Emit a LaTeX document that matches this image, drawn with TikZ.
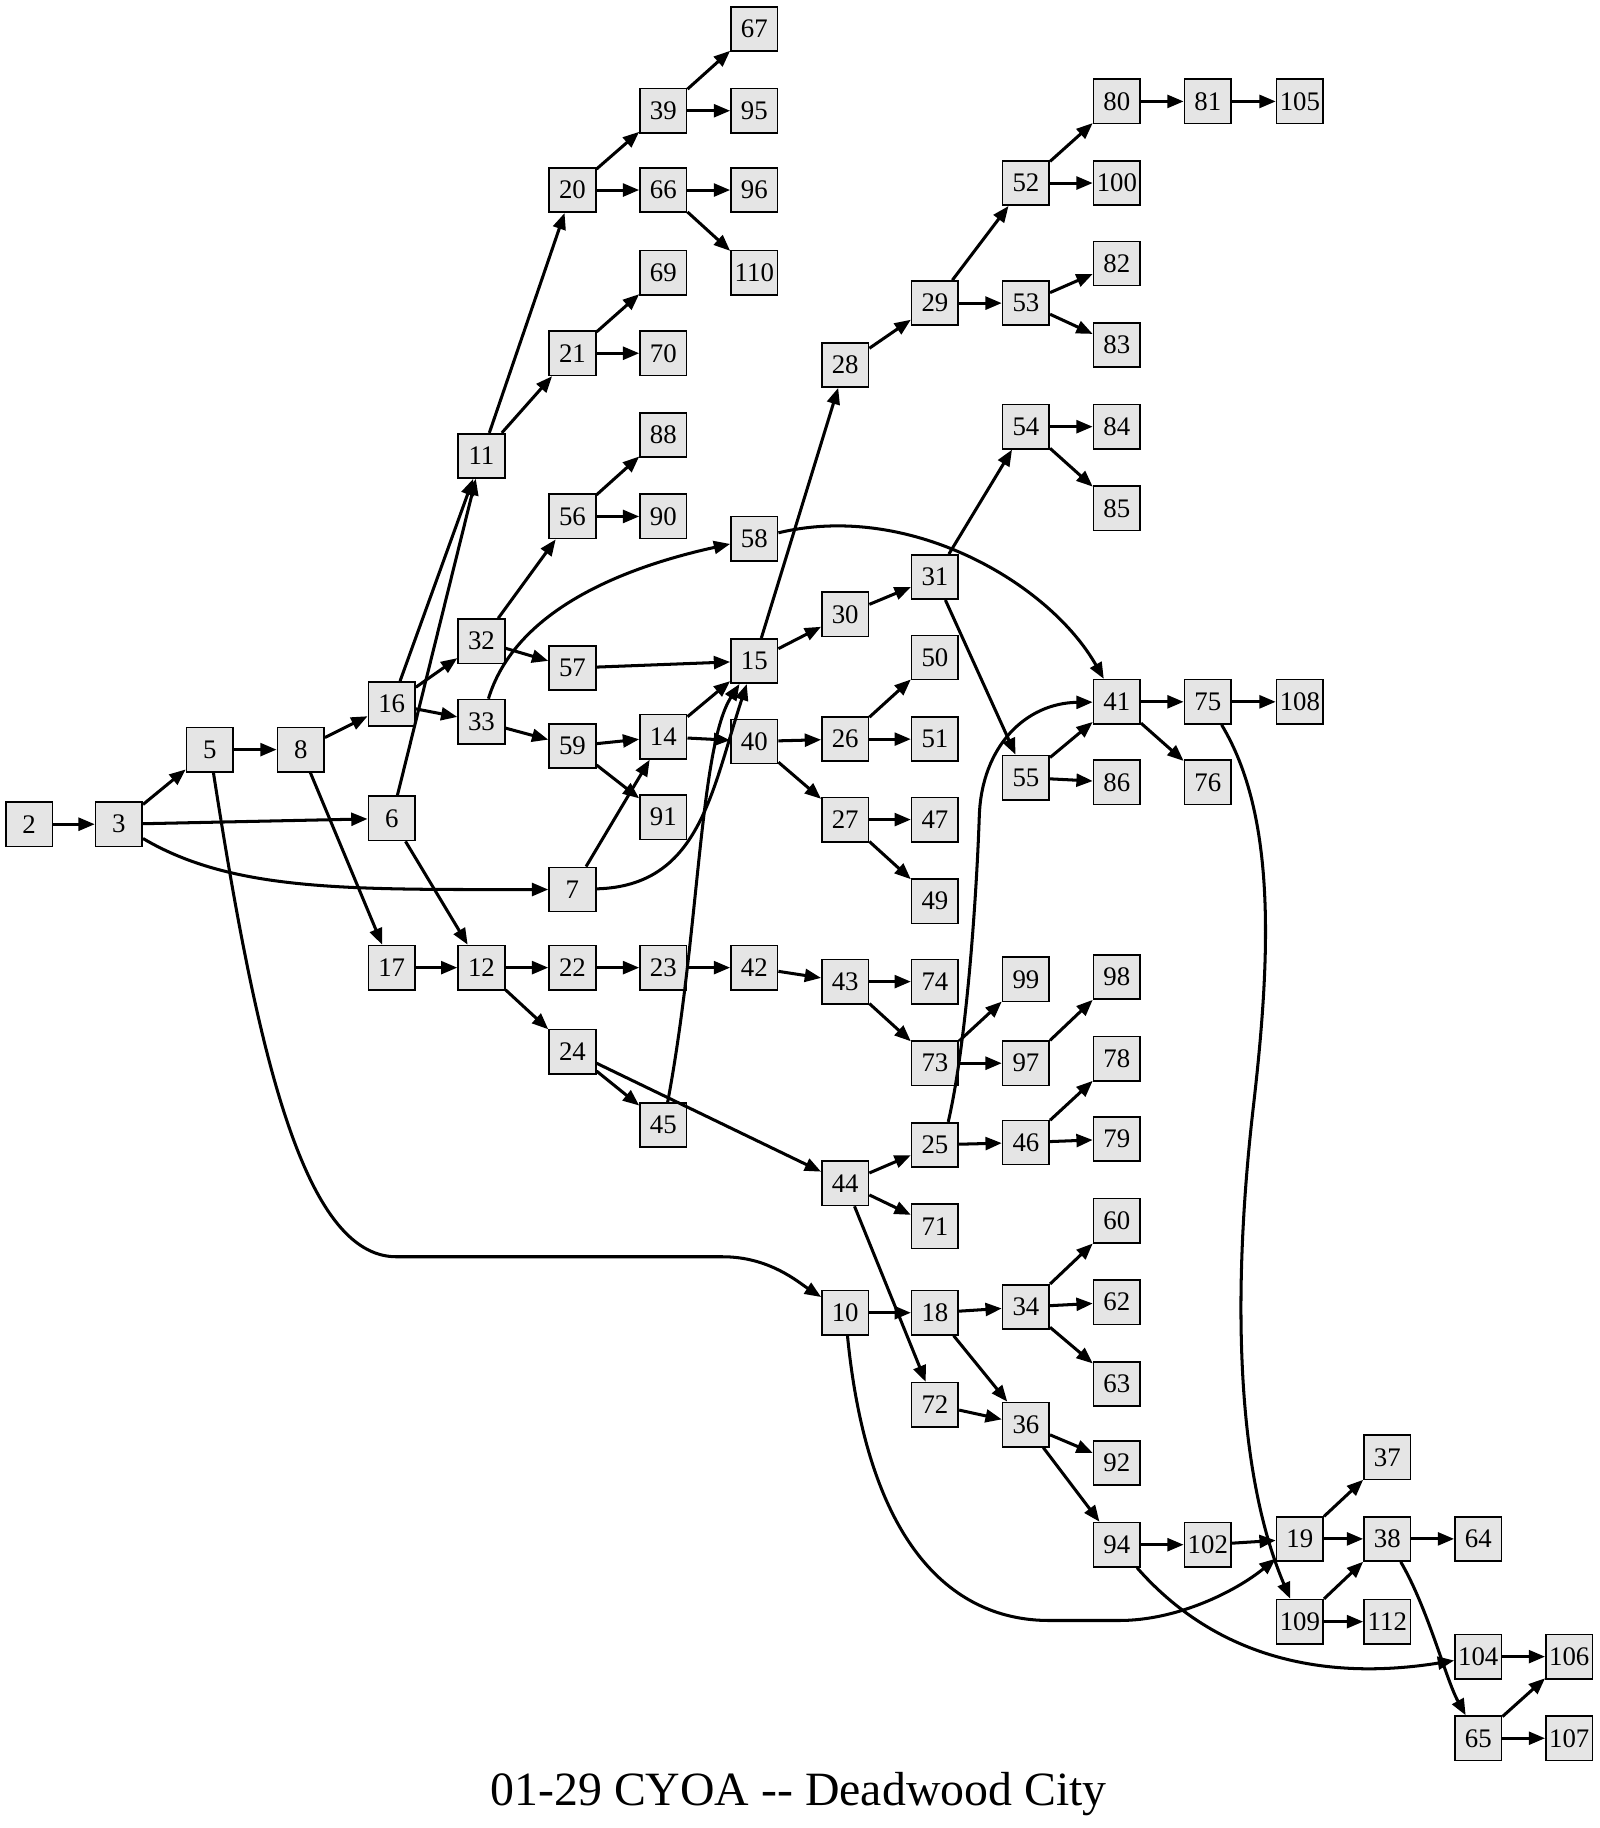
\documentclass[tikz,border=0pt]{standalone}
\usepackage{fontspec}
\setmainfont{Liberation Serif}
\usetikzlibrary{arrows.meta}
\begin{document}
\begin{tikzpicture}[x=1pt,y=-1pt,
  box/.style={draw=black, fill=black!10, line width=1.4pt, minimum width=40pt, minimum height=38pt, inner sep=0pt, font=\fontsize{23}{26}\selectfont},
  edge/.style={line width=2.6pt, -{Triangle[length=14pt,width=11pt]}}]
\fill[white] (0,0) rectangle (1372,1568);
\useasboundingbox (0,0) rectangle (1372,1568);
\foreach \n/\x/\y in {2/25/707, 3/102/707, 5/180/643, 8/258/643, 6/336/702, 7/491/763,
  16/336/604, 17/336/830, 11/413/391, 32/413/550, 33/413/619, 12/413/830,
  20/491/163, 21/491/303, 56/491/443, 57/491/573, 59/491/640, 22/491/830, 24/491/902,
  39/569/95, 66/569/163, 69/569/234, 70/569/303, 88/569/373, 90/569/443, 14/569/632,
  91/569/701, 23/569/830, 45/569/965,
  67/647/25, 95/647/95, 96/647/163, 110/647/234, 58/647/462, 15/647/567, 40/647/636, 42/647/830,
  28/725/313, 30/725/527, 26/725/634, 27/725/703, 43/725/842, 44/725/1015, 10/725/1126,
  29/802/260, 31/802/495, 50/802/564, 51/802/634, 47/802/703, 49/802/773, 74/802/842,
  73/802/912, 25/802/982, 71/802/1052, 18/802/1126, 72/802/1205,
  52/880/157, 53/880/260, 54/880/366, 55/880/667, 99/880/840, 97/880/912, 46/880/980,
  34/880/1121, 36/880/1222,
  80/958/87, 100/958/157, 82/958/226, 83/958/296, 84/958/366, 85/958/436, 41/958/602,
  86/958/671, 98/958/838, 78/958/908, 79/958/977, 60/958/1047, 62/958/1117, 63/958/1187,
  92/958/1255, 94/958/1325,
  81/1036/87, 75/1036/602, 76/1036/671, 102/1036/1325,
  105/1115/87, 108/1115/602, 19/1115/1320, 109/1115/1391,
  37/1190/1250, 38/1190/1320, 112/1190/1391,
  64/1268/1320, 104/1268/1421, 65/1268/1491, 106/1346/1421, 107/1346/1491}
  \node[box] (n\n) at (\x,\y) {\n};
\foreach \a/\b in {2/3, 3/5, 3/6, 5/8, 8/16, 8/17, 16/11, 16/32, 16/33, 6/11, 6/12, 17/12,
  11/20, 11/21, 32/56, 32/57, 33/59, 12/22, 12/24, 20/39, 20/66, 21/69, 21/70,
  56/88, 56/90, 57/15, 59/14, 59/91, 22/23, 24/45, 24/44, 39/67, 39/95, 66/96, 66/110,
  14/15, 14/40, 7/14, 23/42, 15/28, 15/30, 40/26, 40/27, 42/43, 28/29, 30/31,
  26/50, 26/51, 27/47, 27/49, 43/74, 43/73, 44/25, 44/71, 44/72, 10/18,
  29/52, 29/53, 31/54, 31/55, 73/99, 73/97, 25/46, 18/34, 18/36, 72/36,
  52/80, 52/100, 53/82, 53/83, 54/84, 54/85, 55/41, 55/86, 97/98, 46/78, 46/79,
  34/60, 34/62, 34/63, 36/92, 36/94, 80/81, 41/75, 41/76, 94/102, 81/105, 75/108,
  102/19, 19/37, 19/38, 109/38, 109/112, 38/64, 104/106, 65/106, 65/107}
  \draw[edge] (n\a) -- (n\b);
% curved connectors
\draw[edge] (n3) .. controls (200,765) and (300,763) .. (n7);
\draw[edge] (n5) .. controls (220,900) and (260,1078) .. (340,1078) -- (620,1078) .. controls (660,1078) and (685,1100) .. (n10);
\draw[edge] (n7) .. controls (600,760) and (610,680) .. (n15);
\draw[edge] (n45) .. controls (600,800) and (600,640) .. (n15);
\draw[edge] (n33) .. controls (440,530) and (520,490) .. (n58);
\draw[edge] (n58) .. controls (780,430) and (900,500) .. (n41);
\draw[edge] (n25.60) .. controls (830,890) and (838,760) .. (840,700) .. controls (842,640) and (880,603) .. (n41);
\draw[edge] (n10) .. controls (745,1330) and (820,1390) .. (900,1390) -- (960,1390) .. controls (1010,1390) and (1060,1365) .. (n19);
\draw[edge] (n75) .. controls (1095,700) and (1090,820) .. (1075,950) .. controls (1060,1080) and (1055,1250) .. (n109);
\draw[edge] (n94) .. controls (1050,1430) and (1150,1440) .. (n104);
\draw[edge] (n38) .. controls (1225,1380) and (1240,1440) .. (n65);
\node[font=\fontsize{41}{48}\selectfont, anchor=base] (title) at (685,1549) {01{-}29 CYOA {-}{-} Deadwood City};
\end{tikzpicture}
\end{document}
